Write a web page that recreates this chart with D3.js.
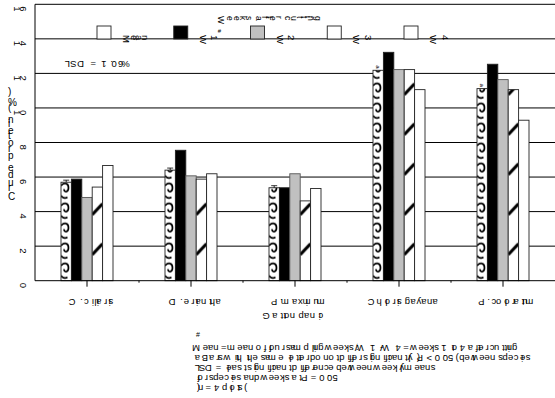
<!DOCTYPE html>
<html>
<head>
<meta charset="utf-8">
<script src="https://cdn.jsdelivr.net/npm/d3@7"></script>
<style>
  html, body { margin: 0; padding: 0; background: #fff; }
  svg { display: block; font-family: "Liberation Sans", Arial, sans-serif; }
</style>
</head>
<body>
<svg id="chart" width="555" height="398"></svg>
<script>
// Crude protein by species and sampling week
const categories = ["C. ciliaris", "D. eriantha", "P. maximum", "Chloris gayana", "P. coloratum"];
const categoryLine2 = ["", "", "Gatton panic", "", ""];
const seriesNames = ["Mean", "W 1", "W 2", "W 3", "W 4"];
const meanValues = [5.70, 6.40, 5.38, 12.18, 11.12];
const w1Values   = [5.88, 7.55, 5.38, 13.22, 12.53];
const w2Values   = [4.82, 6.07, 6.19, 12.22, 11.64];
const w3Values   = [5.42, 5.88, 4.62, 12.22, 11.06];
const w4Values   = [6.67, 6.19, 5.34, 11.06,  9.29];
const meanErrors = [0.12, 0.12, 0.12, null, null];
const meanLetters = ["", "", "", "a", "a"];
const yTicks = [0, 2, 4, 6, 8, 10, 12, 14, 16];
const yTitle = "Crude protein (%)";
const legendTitle = "Weeks after cutting";
const lsdText = "LSD = 1.06%";
const footnoteMark = "#";
const footnoteLines = [
  "Mean = mean of four sampling weeks; W 1 - W 4 = weeks 1 to 4 after cutting",
  "a Bars with the same letter do not differ significantly (P > 0.05) between species",
  "LSD = least significant difference between weekly means",
  "for species and weeks at P = 0.05",
  "(n = 4 plots)"
];

const seriesValues = [meanValues, w1Values, w2Values, w3Values, w4Values];
const fills = ["url(#pat-mean)", "#000000", "#c0c0c0", "url(#pat-hatch)", "#ffffff"];

const svg = d3.select("#chart");
const plot = { left: 35, right: 555, top: 4.3, bottom: 280.7 };

const y = d3.scaleLinear().domain([0, 16]).range([plot.bottom, plot.top]);
const x = d3.scaleBand().domain(categories).range([plot.left, plot.right]).padding(0);
const xs = d3.scaleBand().domain(seriesNames)
  .range([x.bandwidth() * 0.25, x.bandwidth() * 0.75]).padding(0);

// Fill patterns (bars sit in translated groups, so patterns use group-local x)
const defs = svg.append("defs");
const pm = defs.append("pattern").attr("id", "pat-mean")
  .attr("patternUnits", "userSpaceOnUse").attr("width", 104).attr("height", 20)
  .attr("x", xs("Mean")).attr("y", plot.bottom);
pm.append("rect").attr("width", 104).attr("height", 20).attr("fill", "#fff");
pm.append("path")
  .attr("d", "M0,5 C3,1.5 7.5,2 7.5,7 C7.5,12 3,12 3,8.5 M0,15 C2,17.5 4,18 6.5,16.5")
  .attr("fill", "none").attr("stroke", "#000").attr("stroke-width", 1.7);
const ph = defs.append("pattern").attr("id", "pat-hatch")
  .attr("patternUnits", "userSpaceOnUse").attr("width", 104).attr("height", 40)
  .attr("x", xs("W 3")).attr("y", plot.bottom);
ph.append("rect").attr("width", 104).attr("height", 40).attr("fill", "#fff");
ph.append("path").attr("d", "M0,14 L10.4,3")
  .attr("stroke", "#000").attr("stroke-width", 3.2);

// Horizontal grid lines and top frame
svg.append("g").selectAll("line").data(yTicks.filter(t => t > 0)).join("line")
  .attr("x1", plot.left).attr("x2", plot.right)
  .attr("y1", d => y(d)).attr("y2", d => y(d))
  .attr("stroke", "#000").attr("stroke-width", 1);

// Bars
const groups = svg.append("g").selectAll("g").data(categories).join("g")
  .attr("transform", d => `translate(${x(d)},0)`);
groups.selectAll("rect")
  .data((c, i) => seriesNames.map((s, j) => ({ s, j, v: seriesValues[j][i] })))
  .join("rect")
  .attr("x", d => xs(d.s))
  .attr("width", xs.bandwidth())
  .attr("y", d => y(d.v))
  .attr("height", d => y(0) - y(d.v))
  .attr("fill", d => fills[d.j])
  .attr("stroke", d => d.j === 2 ? "#555" : "#222")
  .attr("stroke-width", 0.9);

// Error whiskers and letters on the Mean bars
groups.each(function (c, i) {
  const g = d3.select(this);
  const cx = xs("Mean") + xs.bandwidth() / 2;
  if (meanErrors[i] != null) {
    const top = y(meanValues[i] + meanErrors[i]);
    g.append("line").attr("x1", cx).attr("x2", cx)
      .attr("y1", y(meanValues[i])).attr("y2", top).attr("stroke", "#000").attr("stroke-width", 0.8);
    g.append("line").attr("x1", cx - 3).attr("x2", cx + 3)
      .attr("y1", top).attr("y2", top).attr("stroke", "#000").attr("stroke-width", 0.8);
  }
  if (meanLetters[i]) {
    g.append("text").attr("x", cx - 2).attr("y", y(meanValues[i]) - 5)
      .attr("rotate", 90).attr("font-size", 6).text(meanLetters[i]);
  }
});

// Axes lines and ticks
svg.append("line").attr("x1", plot.left).attr("x2", plot.left)
  .attr("y1", plot.top).attr("y2", plot.bottom).attr("stroke", "#000");
svg.append("line").attr("x1", plot.left).attr("x2", plot.right)
  .attr("y1", plot.bottom).attr("y2", plot.bottom).attr("stroke", "#000");
svg.append("g").selectAll("line").data(categories).join("line")
  .attr("x1", d => x(d) + x.bandwidth() / 2).attr("x2", d => x(d) + x.bandwidth() / 2)
  .attr("y1", plot.bottom).attr("y2", plot.bottom + 6).attr("stroke", "#000");
svg.append("g").selectAll("line").data(categories.slice(1)).join("line")
  .attr("x1", d => x(d)).attr("x2", d => x(d))
  .attr("y1", plot.bottom).attr("y2", plot.bottom + 2).attr("stroke", "#000");

// Y tick labels, glyphs turned sideways
svg.append("g").selectAll("text").data(yTicks).join("text")
  .attr("x", 25).attr("y", d => y(d) + 2)
  .attr("text-anchor", "end").attr("rotate", 90)
  .attr("font-size", 9.5).text(d => d);

// Y axis title
svg.append("text")
  .attr("transform", "translate(8,145) rotate(-90)")
  .attr("text-anchor", "middle").attr("rotate", 90)
  .attr("font-size", 10).attr("letter-spacing", 1.8).text(yTitle);

// Category labels
svg.append("g").selectAll("text").data(categories).join("text")
  .attr("x", d => x(d) + x.bandwidth() / 2 + 10).attr("y", 299)
  .attr("text-anchor", "middle").attr("rotate", 180)
  .attr("font-size", 9.5).attr("letter-spacing", 0.4).text(d => d);
svg.append("g").selectAll("text").data(categories.filter((c, i) => categoryLine2[i])).join("text")
  .attr("x", d => x(d) + x.bandwidth() / 2 + 4).attr("y", 313)
  .attr("text-anchor", "middle").attr("rotate", 180)
  .attr("font-size", 9.5).attr("letter-spacing", 0.4).text(d => categoryLine2[categories.indexOf(d)]);

// Legend
const legendX = d3.scalePoint().domain(seriesNames).range([97, 404]);
const lg = svg.append("g");
lg.selectAll("rect").data(seriesNames).join("rect")
  .attr("x", d => legendX(d)).attr("y", 26).attr("width", 14).attr("height", 13)
  .attr("fill", (d, j) => j === 0 || j === 3 ? "#fff" : fills[j])
  .attr("stroke", "#222").attr("stroke-width", 0.9);
lg.selectAll("text.lab").data(seriesNames).join("text").attr("class", "lab")
  .attr("x", d => legendX(d) + 26).attr("y", 35)
  .attr("rotate", 90).attr("font-size", 9.5).text(d => d);
lg.append("text").attr("x", legendX("W 1") + 44).attr("y", 33)
  .attr("font-size", 6).text("#");
lg.append("text").attr("x", 218).attr("y", 16)
  .attr("rotate", 90).attr("font-size", 8.5).attr("letter-spacing", 1.6).text(legendTitle);
lg.append("text").attr("x", 70).attr("y", 61)
  .attr("rotate", 180).attr("font-size", 9.5).attr("letter-spacing", 1.2).text(lsdText);

// Footnote
svg.append("text").attr("x", 196).attr("y", 337)
  .attr("font-size", 7).text(footnoteMark);
svg.append("g").selectAll("text").data(footnoteLines).join("text")
  .attr("x", 200).attr("y", (d, i) => 345 + i * 10)
  .attr("rotate", 180).attr("font-size", 9.5).text(d => d);
</script>
</body>
</html>
